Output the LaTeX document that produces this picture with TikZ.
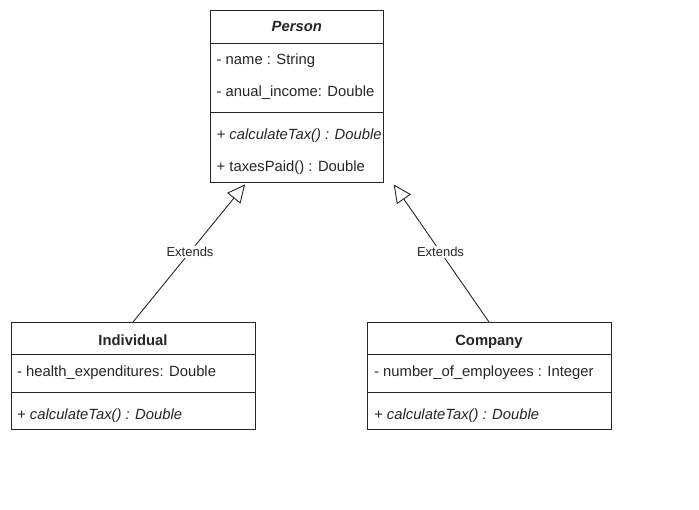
\documentclass[tikz,border=0pt]{standalone}
\usepackage{fontspec}
\setmainfont{Liberation Sans}
\usetikzlibrary{arrows.meta}
\definecolor{txt}{HTML}{262626}
\definecolor{ln}{HTML}{262626}
\begin{document}
\begin{tikzpicture}[x=1pt,y=1pt,
  classbox/.style={draw=ln, line width=0.9pt, fill=white, rectangle, inner sep=0pt, outer sep=0pt},
  sepline/.style={draw=ln, line width=0.9pt},
  member/.style={anchor=base west, inner sep=0pt, text=txt, font=\fontsize{14.8}{18}\selectfont},
  title/.style={anchor=base, inner sep=0pt, text=txt, font=\fontsize{14.8}{18}\selectfont\bfseries},
  ext/.style={draw=ln, line width=0.9pt, -{Triangle[open, length=18pt, width=17pt, fill=white]}, shorten >=3pt},
  extlabel/.style={fill=white, inner sep=1.5pt, text=txt, font=\fontsize{13}{16}\selectfont}
]
\useasboundingbox (0,0) rectangle (699,-509);

% Person
\node[classbox, minimum width=172.5pt, minimum height=172pt] (person) at (296.75,-96) {};
\draw[sepline] (210.5,-43) -- (383,-43);
\draw[sepline] (210.5,-112) -- (383,-112);
\node[title] (ptitle) at (296.75,-31.5) {\itshape Person};
\node[member] (pa1) at (216.5,-64) {- name : String};
\node[member] (pa2) at (216.5,-96.5) {- anual\_income: Double};
\node[member] (pm1) at (216.5,-139) {\itshape + calculateTax() : Double};
\node[member] (pm2) at (216.5,-171.5) {+ taxesPaid() : Double};

% Individual
\node[classbox, minimum width=244pt, minimum height=107pt] (ind) at (133,-375.5) {};
\draw[sepline] (11,-354) -- (255,-354);
\draw[sepline] (11,-392) -- (255,-392);
\node[title] (ititle) at (133,-345) {Individual};
\node[member] (ia1) at (17,-376.5) {- health\_expenditures: Double};
\node[member] (im1) at (17,-419) {\itshape + calculateTax() : Double};

% Company
\node[classbox, minimum width=244pt, minimum height=107pt] (comp) at (489,-375.5) {};
\draw[sepline] (367,-354) -- (611,-354);
\draw[sepline] (367,-392) -- (611,-392);
\node[title] (ctitle) at (489,-345) {Company};
\node[member] (ca1) at (374,-376.5) {- number\_of\_employees : Integer};
\node[member] (cm1) at (374,-419) {\itshape + calculateTax() : Double};

% Generalisations
\coordinate (pl) at (247,-182);
\coordinate (pr) at (392,-182);
\draw[ext] (ind.north) -- node[extlabel] {Extends} (pl);
\draw[ext] (comp.north) -- node[extlabel] {Extends} (pr);
\end{tikzpicture}
\end{document}
